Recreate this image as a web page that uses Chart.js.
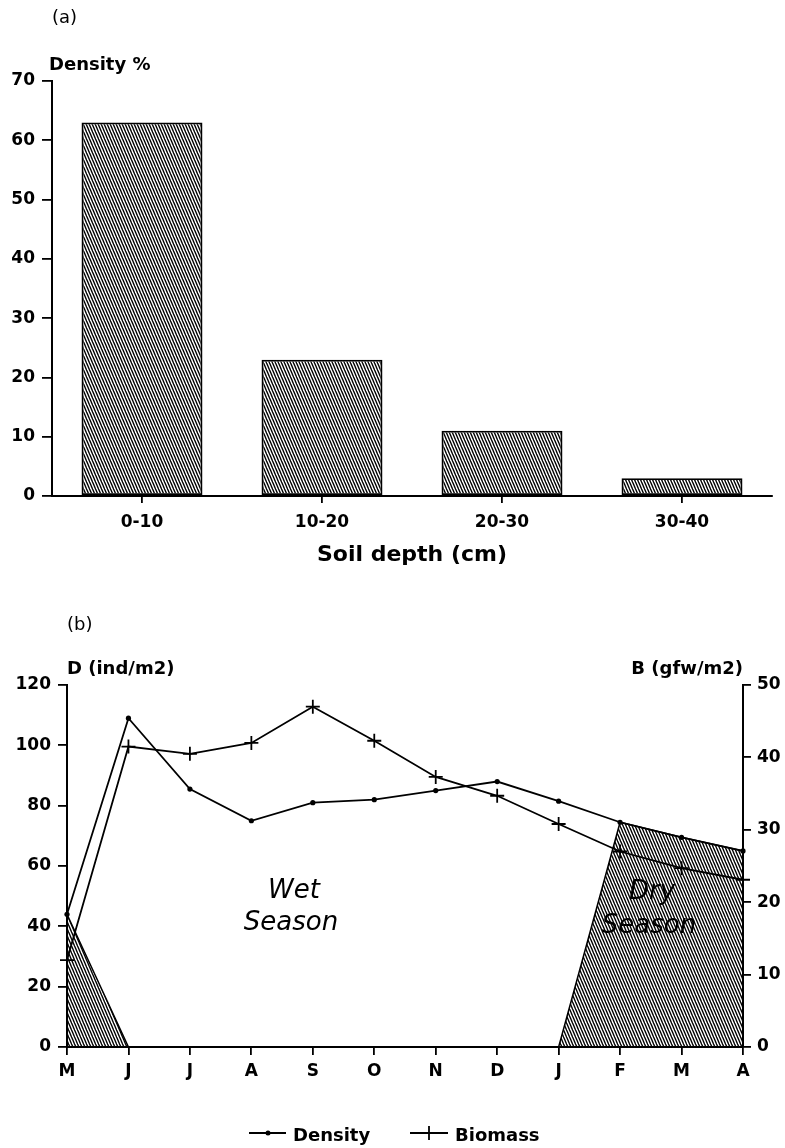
<!DOCTYPE html>
<html>
<head>
<meta charset="utf-8">
<title>Soil depth and seasonal density / biomass</title>
<script src="https://cdn.jsdelivr.net/npm/chart.js@4.4.1/dist/chart.umd.min.js"></script>
<style>
  html, body { margin: 0; padding: 0; background: #fff; }
  #wrap { position: relative; width: 785px; height: 1148px; }
  canvas { position: absolute; left: 0; }
  #depthChart { top: 0; }
  #seasonChart { top: 590px; }
</style>
</head>
<body>
<div id="wrap">
  <canvas id="depthChart" width="785" height="590"></canvas>
  <canvas id="seasonChart" width="785" height="558"></canvas>
</div>
<script>
// Panel (a): density by soil depth
const depthLabels = ['0-10', '10-20', '20-30', '30-40'];
const densityPct = [63, 23, 11, 3];

// Panel (b): monthly density and biomass
const months = ['M', 'J', 'J', 'A', 'S', 'O', 'N', 'D', 'J', 'F', 'M', 'A'];
const densityInd = [44, 109, 85.5, 75, 81, 82, 85, 88, 81.5, 74.5, 69.5, 65];
const biomassG = [12, 41.5, 40.5, 42, 47, 42.3, 37.3, 34.7, 30.8, 27, 24.7, 23.1];
// dry season shading follows the density curve in the dry months
const drySeason = [44, 0, 0, 0, 0, 0, 0, 0, 0, 74.5, 69.5, 65];

const FONT = "'DejaVu Sans', 'Liberation Sans', sans-serif";
Chart.defaults.font.family = FONT;
Chart.defaults.color = '#000';

// diagonal hatch like the printed figure
function hatch(step, rise, width) {
    const c = document.createElement('canvas');
    c.width = step;
    c.height = rise;
    const g = c.getContext('2d');
    g.strokeStyle = '#000';
    g.lineWidth = width;
    for (let k = -1; k <= 1; k++) {
        const x0 = k * step;
        g.beginPath();
        g.moveTo(x0 - step * 0.5, -rise * 0.5);
        g.lineTo(x0 + step * 1.5, rise * 1.5);
        g.stroke();
    }
    return g.createPattern(c, 'repeat');
}

// draws free text (panel letters, axis captions, legend)
const textPlugin = {
    id: 'freeText',
    afterDraw(chart, args, opts) {
        const ctx = chart.ctx;
        ctx.save();
        ctx.fillStyle = '#000';
        ctx.strokeStyle = '#000';
        ctx.textBaseline = 'alphabetic';
        (opts.items || []).forEach(t => {
            ctx.font = t.font;
            ctx.textAlign = t.align || 'left';
            ctx.fillText(t.text, t.x, t.y);
        });
        if (opts.legend) opts.legend(ctx);
        ctx.restore();
    }
};

const tickFont = { family: FONT, size: 17, weight: 'bold' };

// ---------- (a) ----------
const ctxA = document.getElementById('depthChart').getContext('2d');
new Chart(ctxA, {
    type: 'bar',
    data: {
        labels: depthLabels,
        datasets: [{
            data: densityPct,
            backgroundColor: hatch(3, 7, 1.35),
            borderColor: '#000',
            borderWidth: 1.8,
            borderSkipped: false,
            categoryPercentage: 1,
            barPercentage: 0.672
        }]
    },
    options: {
        responsive: false,
        animation: false,
        devicePixelRatio: 1,
        layout: { padding: { left: 0, top: 81, right: 13, bottom: 0 } },
        plugins: {
            legend: { display: false },
            tooltip: { enabled: false },
            freeText: {
                items: [
                    { text: '(a)', x: 52, y: 23, font: `18px ${FONT}` },
                    { text: 'Density %', x: 49, y: 70, font: `bold 18px ${FONT}` },
                    { text: 'Soil depth (cm)', x: 412, y: 561, font: `bold 22px ${FONT}`, align: 'center' }
                ]
            }
        },
        scales: {
            x: {
                grid: { offset: false, drawOnChartArea: false, color: '#000', lineWidth: 1.8, tickLength: 7 },
                border: { color: '#000', width: 2 },
                ticks: { font: tickFont, color: '#000', padding: 9 },
                afterFit(s) { s.height = 94; }
            },
            y: {
                min: 0,
                max: 70,
                ticks: { stepSize: 10, font: tickFont, color: '#000', padding: 7 },
                grid: { drawOnChartArea: false, color: '#000', lineWidth: 1.8, tickLength: 10 },
                border: { color: '#000', width: 2 },
                afterFit(s) { s.width = 52; }
            }
        }
    },
    plugins: [textPlugin]
});

// ---------- (b) ----------
const ctxB = document.getElementById('seasonChart').getContext('2d');

function drawLegend(ctx) {
    ctx.lineWidth = 1.8;
    ctx.beginPath();
    ctx.moveTo(249, 543); ctx.lineTo(286, 543);
    ctx.stroke();
    ctx.beginPath();
    ctx.arc(268, 543, 2.5, 0, Math.PI * 2);
    ctx.fill();
    ctx.beginPath();
    ctx.moveTo(410, 543); ctx.lineTo(448, 543);
    ctx.moveTo(429, 536); ctx.lineTo(429, 550);
    ctx.stroke();
    ctx.font = `bold 18px ${FONT}`;
    ctx.textAlign = 'left';
    ctx.fillText('Density', 293, 551);
    ctx.fillText('Biomass', 455, 551);
}

new Chart(ctxB, {
    type: 'line',
    data: {
        labels: months,
        datasets: [
            {
                label: 'Density',
                data: densityInd,
                yAxisID: 'y',
                borderColor: '#000',
                borderWidth: 1.8,
                pointStyle: 'circle',
                pointRadius: 2.6,
                pointBackgroundColor: '#000',
                pointBorderWidth: 0,
                tension: 0,
                order: 1
            },
            {
                label: 'Biomass',
                data: biomassG,
                yAxisID: 'y1',
                borderColor: '#000',
                borderWidth: 1.8,
                pointStyle: 'cross',
                pointRadius: 7,
                pointBorderColor: '#000',
                pointBorderWidth: 1.8,
                tension: 0,
                order: 2
            },
            {
                label: 'Dry season',
                data: drySeason,
                yAxisID: 'y',
                borderColor: '#000',
                borderWidth: 1.5,
                backgroundColor: hatch(3, 7, 1.35),
                fill: 'origin',
                pointRadius: 0,
                tension: 0,
                order: 3
            }
        ]
    },
    options: {
        responsive: false,
        animation: false,
        devicePixelRatio: 1,
        layout: { padding: { left: 0, top: 95, right: 0, bottom: 0 } },
        plugins: {
            legend: { display: false },
            tooltip: { enabled: false },
            freeText: {
                items: [
                    { text: '(b)', x: 67, y: 40, font: `18px ${FONT}` },
                    { text: 'D (ind/m2)', x: 67, y: 84, font: `bold 18px ${FONT}` },
                    { text: 'B (gfw/m2)', x: 743, y: 84, font: `bold 18px ${FONT}`, align: 'right' },
                    { text: 'Wet', x: 294, y: 308, font: `oblique 26px ${FONT}`, align: 'center' },
                    { text: 'Season', x: 291, y: 340, font: `oblique 26px ${FONT}`, align: 'center' },
                    { text: 'Dry', x: 652, y: 309, font: `oblique 26px ${FONT}`, align: 'center' },
                    { text: 'Season', x: 649, y: 343, font: `oblique 26px ${FONT}`, align: 'center' }
                ],
                legend: drawLegend
            }
        },
        scales: {
            x: {
                offset: false,
                grid: { drawOnChartArea: false, color: '#000', lineWidth: 1.8, tickLength: 8 },
                border: { color: '#000', width: 2 },
                ticks: { font: tickFont, color: '#000', padding: 6, autoSkip: false, maxRotation: 0 },
                afterFit(s) { s.height = 101; }
            },
            y: {
                position: 'left',
                min: 0,
                max: 120,
                ticks: { stepSize: 20, font: tickFont, color: '#000', padding: 7 },
                grid: { drawOnChartArea: false, color: '#000', lineWidth: 1.8, tickLength: 9 },
                border: { color: '#000', width: 2 },
                afterFit(s) { s.width = 67; }
            },
            y1: {
                position: 'right',
                min: 0,
                max: 50,
                ticks: { stepSize: 10, font: tickFont, color: '#000', padding: 6 },
                grid: { drawOnChartArea: false, color: '#000', lineWidth: 1.8, tickLength: 8 },
                border: { color: '#000', width: 2 },
                afterFit(s) { s.width = 42; }
            }
        }
    },
    plugins: [textPlugin]
});
</script>
</body>
</html>
